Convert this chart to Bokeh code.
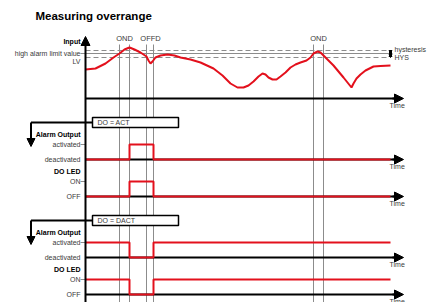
from bokeh.plotting import figure
from bokeh.models import Range1d, Arrow, NormalHead
from bokeh.core.properties import value
from bokeh.embed import file_html
from bokeh.resources import INLINE

# ---------------- data ----------------
# input signal (time, level) (level in diagram units, larger = lower)
t_input = [85, 95, 105, 113, 119, 124, 129, 134, 140, 146, 148, 150, 152, 155, 160, 167, 174, 180, 190,
           200, 213, 222, 230, 237, 243, 248, 253, 258, 262, 265, 268, 272, 276, 280, 285, 290, 295,
           300, 306, 310, 313, 317, 320, 323, 328, 333, 338, 343, 347, 351, 353, 356, 360, 365, 373, 380, 390]
v_input = [69, 68, 63, 57, 53, 49, 47, 49, 52, 56, 60, 63, 61, 57, 55, 54, 55, 57, 59,
           62, 68, 75, 83, 87, 87, 85, 81, 76, 73, 74, 77, 79, 79, 76, 72, 67, 64,
           62, 60, 57, 53, 51, 52, 55, 60, 65, 71, 77, 82, 87, 83, 78, 74, 70, 66, 65.5, 65]

hyst_top, alarm_limit, lv_level = 50, 53, 57
event_times = [119, 129, 146, 153, 313, 323]
event_labels = ["OND", "OFFD", "OND"]
event_label_x = [124, 150, 318]

# digital outputs: edges and states (1 = activated / ON)
edges = [85, 129, 153, 390]
state_act = [0, 1, 0]
state_dact = [1, 0, 1]

panels = [
    dict(box="DO = ACT", states=state_act, alarm=(144, 159), led=(181, 196), box_y=122, head=134),
    dict(box="DO = DACT", states=state_dact, alarm=(242, 257), led=(279, 294), box_y=220, head=232),
]

RED = "#e3101c"
GREY = "#8c8c8c"
FONT = "Liberation Sans"

p = figure(width=427, height=302, x_range=Range1d(0, 427), y_range=Range1d(302, 0),
           output_backend="svg", toolbar_location=None, min_border=0,
           x_axis_location=None, y_axis_location=None, outline_line_color=None)
p.grid.visible = False


def label(x, y, txt, bold=False, align="right", size="7px", color="#3a3a3a"):
    p.text(x=[x], y=[y], text=[txt], text_font=value(FONT), text_font_size=size,
           text_font_style="bold" if bold else "normal", text_align=align,
           text_baseline="middle", text_color=color)


def time_axis(y):
    p.segment(x0=[85], y0=[y], x1=[396], y1=[y], line_color="black", line_width=2)
    p.add_layout(Arrow(end=NormalHead(size=9, fill_color="black", line_color="black", line_width=1),
                       x_start=392, y_start=y, x_end=403, y_end=y, line_width=2, line_color="black"))
    label(389, y + 7, "Time", align="left", size="7px")


# title
label(35, 15, "Measuring overrange", bold=True, align="left", size="11.5px", color="black")

# event vertical lines
p.segment(x0=event_times, y0=[44] * 6, x1=event_times, y1=[302] * 6, line_color=GREY, line_width=1)
for lx, lt in zip(event_label_x, event_labels):
    label(lx, 38, lt, align="center", size="7.5px")

# limit lines
p.segment(x0=[85, 85], y0=[hyst_top, lv_level], x1=[388, 388], y1=[hyst_top, lv_level],
          line_color=GREY, line_width=1, line_dash="5 3")
p.segment(x0=[80], y0=[alarm_limit], x1=[388], y1=[alarm_limit], line_color=GREY, line_width=1)
for ya, yb in [(hyst_top, alarm_limit), (alarm_limit, lv_level)]:
    p.add_layout(Arrow(start=NormalHead(size=3, fill_color="black", line_color="black"),
                       end=NormalHead(size=3, fill_color="black", line_color="black"),
                       x_start=390, y_start=ya, x_end=390, y_end=yb, line_width=1))
label(394, 49, "hysteresis", align="left", size="7px")
label(394, 57, "HYS", align="left", size="7px")

# input axis
p.add_layout(Arrow(end=NormalHead(size=9, fill_color="black", line_color="black", line_width=1),
                   x_start=85, y_start=302, x_end=85, y_end=36, line_width=2, line_color="black"))
label(80, 41, "Input", bold=True, color="black")
label(80, 53, "high alarm limit value")
label(80, 61, "LV")
time_axis(98)
p.line(t_input, v_input, line_color=RED, line_width=2)

# output panels
for pn in panels:
    by = pn["box_y"]
    p.line([92, 30.5], [by, by], line_color="black", line_width=2)
    p.add_layout(Arrow(end=NormalHead(size=8, fill_color="black", line_color="black"),
                       x_start=30.5, y_start=by, x_end=30.5, y_end=by + 24, line_width=2))
    p.quad(left=[92], right=[178], top=[by - 5], bottom=[by + 5], fill_color="white",
           line_color="black", line_width=1.5)
    label(97, by, pn["box"], align="left")

    label(80, pn["head"], "Alarm Output", bold=True, color="black")
    label(80, pn["alarm"][0], "activated")
    label(80, pn["alarm"][1], "deactivated")
    label(80, pn["head"] + 37, "DO LED", bold=True, color="black")
    label(80, pn["led"][0], "ON")
    label(80, pn["led"][1], "OFF")
    p.segment(x0=[80, 80], y0=[pn["alarm"][0], pn["led"][0]], x1=[85, 85],
              y1=[pn["alarm"][0], pn["led"][0]], line_color=GREY, line_width=1)

    for hi, lo in (pn["alarm"], pn["led"]):
        time_axis(lo)
        xs, ys = [], []
        for i, s in enumerate(pn["states"]):
            lvl = hi if s else lo
            xs += [edges[i], edges[i + 1]]
            ys += [lvl, lvl]
        p.line(xs, ys, line_color=RED, line_width=2)

open("out.html", "w").write(file_html(p, INLINE))
